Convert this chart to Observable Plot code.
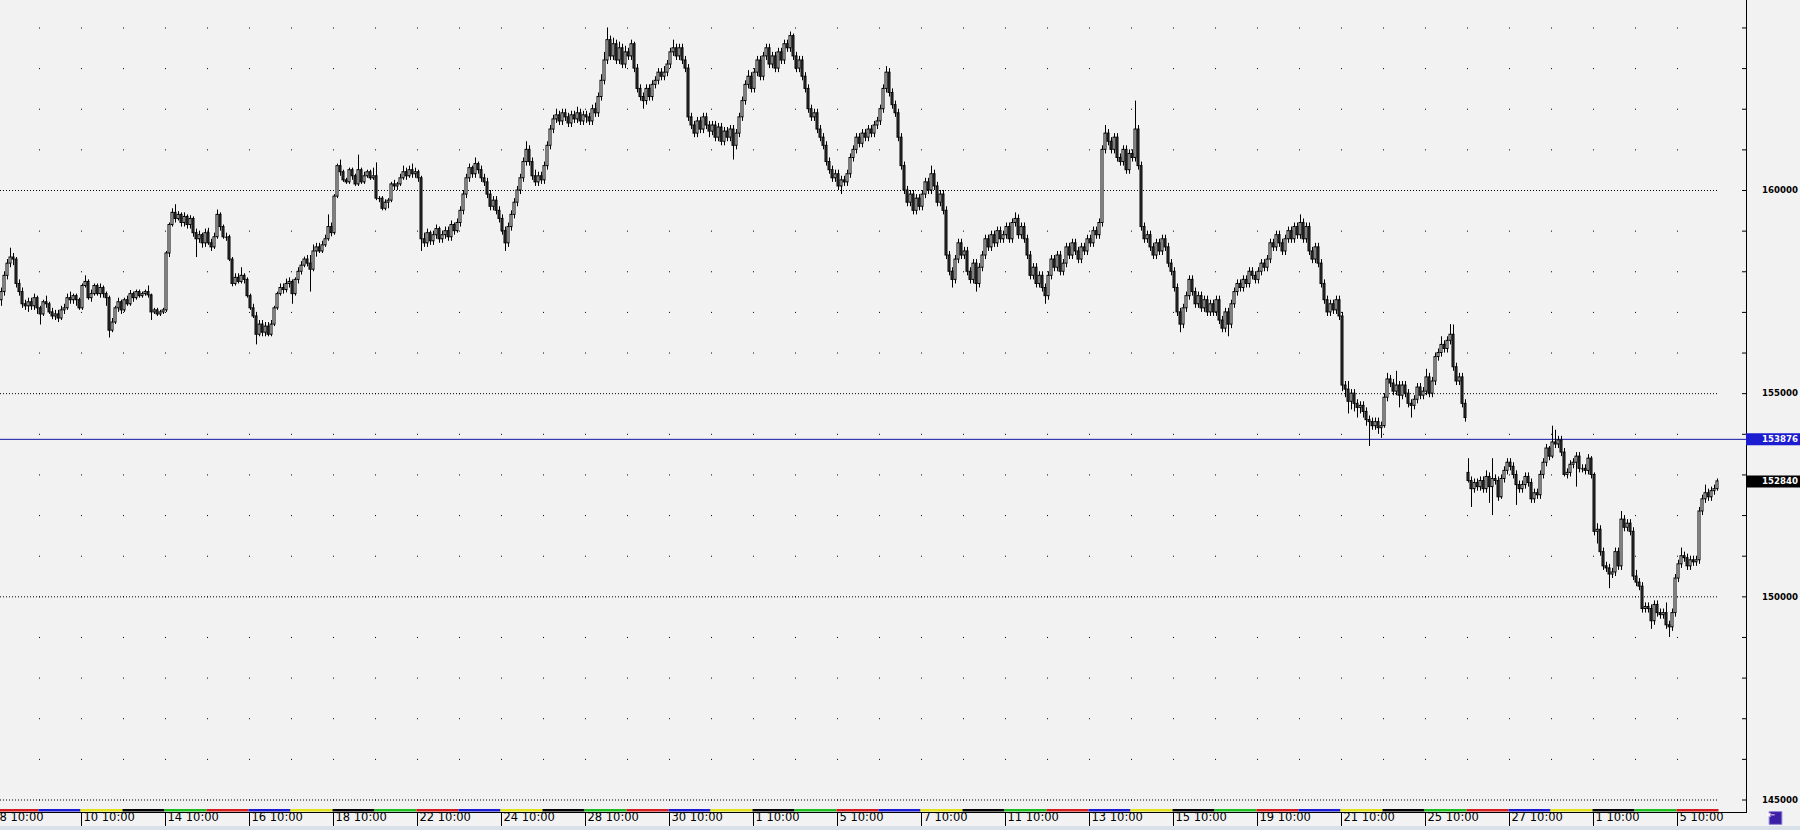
<!DOCTYPE html>
<html><head><meta charset="utf-8">
<script src="https://cdn.jsdelivr.net/npm/d3@7"></script>
<script src="https://cdn.jsdelivr.net/npm/@observablehq/plot@0.6"></script>
<style>html,body{margin:0;padding:0;background:#f2f2f2;overflow:hidden}</style>
</head><body><div id="chart"></div>
<script>
// ---- data (H1 bars, 14 per trading day, 2013-01-08 .. 2013-03-05) ----
const firstDay = "2013-01-08", lastDay = "2013-03-05";
const barsPerDay = 14;
const timeLabels = ["8 10:00","10 10:00","14 10:00","16 10:00","18 10:00","22 10:00","24 10:00","28 10:00","30 10:00","1 10:00","5 10:00","7 10:00","11 10:00","13 10:00","15 10:00","19 10:00","21 10:00","25 10:00","27 10:00","1 10:00","5 10:00"];
const labelDayIndex = [0,2,4,6,8,10,12,14,16,18,20,22,24,26,28,30,32,34,36,38,40];
const weekdayColors = {1:"#1fbd1f", 2:"#d42020", 3:"#1c1cd2", 4:"#e2e21c", 5:"#000000"};
const priceLabels = [145000,150000,155000,160000];
const tickLevels = [145000,146000,147000,148000,149000,150000,151000,152000,153000,154000,155000,156000,157000,158000,159000,160000,161000,162000,163000,164000];
const lineLevel = 153876;
const lastPrice = 152840;

const open = [
157600,157300,157500,157900,158200,158350,158300,157700,157500,157200,157150,157250,157150,157350,
157100,156950,157250,157200,157000,156900,156950,156850,157050,157100,157350,157300,157400,157300,
157100,157650,157750,157350,157450,157650,157450,157600,157450,157350,156550,156750,157100,157250,
157050,157300,157200,157450,157350,157500,157400,157450,157500,157420,157000,157050,156950,157000,
157050,158450,159150,159450,159300,159400,159200,159350,159150,159300,158950,158800,158900,158700,
158950,158700,158600,158850,159400,159100,158850,158850,158300,157700,157850,157750,157900,157800,
157400,157100,156900,156450,156700,156500,156650,156450,156700,157100,157450,157600,157550,157700,
157750,157450,157800,158000,158150,158300,158200,158050,158500,158600,158500,158650,158800,159100,
158950,159850,160600,160450,160250,160200,160500,160350,160150,160500,160200,160350,160450,160300,
160350,159800,159800,159550,159700,159750,160150,160100,160150,160300,160450,160350,160500,160400,
160450,160300,158800,158700,158950,158750,158900,159050,158800,158900,159000,158850,159150,159000,
159200,159500,159900,160300,160550,160400,160650,160500,160300,160200,159900,159600,159750,159500,
159300,159000,158700,159100,159400,159700,160000,160300,160700,161000,160700,160350,160200,160350,
160250,160600,161100,161500,161750,161850,161700,161900,161800,161650,161850,161750,161900,161700,
161850,161800,161700,162000,161900,162300,162700,163200,163700,163300,163600,163200,163500,163100,
163400,163300,163600,163000,162500,162300,162200,162500,162300,162600,162700,162900,162800,162900,
163100,163400,163500,163300,163500,163200,163000,161800,161600,161400,161700,161500,161800,161600,
161450,161600,161300,161550,161200,161450,161300,161500,161100,161400,161800,162200,162600,162800,
162500,162900,163200,162800,163300,163500,163100,163300,163000,163400,163200,163600,163500,163800,
163300,163000,163200,162800,162500,162000,161800,161900,161500,161300,161100,160700,160500,160300,
160400,160100,160250,160200,160400,160800,161000,161300,161150,161400,161300,161500,161400,161600,
161700,162000,162500,162900,162400,162100,161900,161300,160600,160000,159700,159900,159500,159800,
159600,159900,160200,160000,160400,160100,159700,159900,159500,158400,158000,157800,158300,158700,
158400,158500,158000,157800,158200,157700,158100,158400,158800,158600,158900,158700,159000,158800,
158900,159100,158800,159200,159300,158900,159100,158800,158400,157900,158100,157700,157900,157600,
157400,157900,158300,158100,158400,158000,158200,158600,158400,158700,158500,158300,158600,158500,
158800,158700,159000,158900,159200,161000,161400,161200,161000,161300,160800,160700,161000,160500,
160900,160800,161500,160600,159100,158800,158900,158600,158400,158700,158500,158800,158600,158200,
158000,157600,157000,156700,157100,157400,157800,157500,157200,157400,157100,157300,157000,157200,
157000,157300,156800,156600,157000,156700,157200,157500,157700,157600,157800,157700,158000,157900,
157800,158000,158200,158100,158300,158700,158600,158900,158700,158500,158800,159000,158800,159100,
158900,159200,158800,159100,158500,158300,158600,158200,157700,157300,157000,157200,157050,157300,
156900,155200,155100,154800,155000,154750,154650,154700,154550,154350,154300,154200,154300,154150,
154200,154900,155350,155250,155050,155200,154950,155200,155000,154750,154700,154850,155150,154950,
155050,155400,155000,155300,155900,156000,156200,156100,156300,156450,155650,155300,155400,154750,
153050,152850,152650,152800,152700,152850,152650,152950,152700,152900,152850,152450,152900,153100,
153300,153200,153000,152750,152650,152750,152950,152800,152400,152550,152500,153000,153300,153650,
153450,153800,153750,153850,153550,153000,153050,153250,153300,153450,153150,153150,153100,153400,
153000,151600,151650,151100,150750,150700,150550,150600,151100,150750,151900,151700,151800,151600,
150500,150350,150250,149700,149750,149700,149400,149800,149600,149550,149600,149300,149250,149600,
150450,150800,151000,150950,150750,150900,150850,150900,152100,152400,152550,152450,152600,152650
];
const high = [
157750,157600,158000,158300,158580,158450,158350,157800,157600,157300,157350,157350,157450,157400,
157150,157300,157400,157250,157100,157050,157050,157150,157200,157450,157500,157450,157450,157350,
157700,157900,157800,157550,157700,157700,157700,157650,157500,157400,156850,157150,157350,157300,
157350,157400,157540,157500,157550,157550,157500,157550,157650,157450,157100,157100,157050,157100,
158500,159200,159550,159650,159480,159450,159450,159400,159380,159350,159050,159000,158950,159050,
159070,158800,158950,159520,159450,159150,158950,158900,158350,157950,157950,158100,157950,157850,
157450,157200,157000,156800,156800,156750,156750,156800,157150,157500,157700,157700,157820,157850,
157800,157850,158100,158250,158360,158400,158400,158660,158700,158700,158750,158900,159400,159200,
159900,160650,160750,160500,160300,160550,160550,160400,160870,160550,160450,160500,160500,160550,
160680,159850,159850,159770,159800,160200,160250,160200,160400,160600,160550,160600,160650,160550,
160500,160350,158950,159050,159000,159000,159150,159100,159000,159100,159100,159250,159200,159300,
159600,160000,160400,160650,160600,160800,160700,160600,160400,160300,160000,159850,159850,159600,
159400,159100,159200,159500,159800,160100,160400,160800,161200,161100,160800,160500,160450,160450,
160700,161200,161600,161850,162000,161950,162000,162000,161900,161950,161950,162050,162000,161950,
161950,161900,162100,162150,162400,162850,163400,164000,163800,163750,163700,163650,163600,163550,
163500,163700,163650,163100,162600,162400,162600,162600,162700,162800,163000,163000,163050,163200,
163500,163700,163600,163600,163600,163300,163100,161900,161700,161800,161800,161900,161900,161700,
161700,161700,161650,161650,161550,161550,161600,161600,161500,161900,162300,162700,162950,162900,
163000,163300,163300,163400,163600,163600,163400,163400,163500,163500,163700,163700,163900,163850,
163400,163300,163300,162900,162600,162100,162000,162000,161600,161400,161200,160800,160600,160500,
160500,160350,160350,160500,160900,161100,161400,161400,161500,161500,161600,161600,161700,161800,
162100,162600,163050,163000,162500,162200,162000,161400,160700,160100,160000,160000,159900,159900,
160000,160300,160300,160600,160500,160200,160000,160000,159600,158500,158100,158400,158800,158800,
158600,158600,158100,158300,158300,158200,158500,158900,158900,159000,159000,159100,159100,159000,
159200,159200,159300,159450,159400,159200,159200,158900,158500,158200,158200,158000,158000,157700,
158000,158400,158400,158500,158500,158300,158700,158700,158800,158800,158600,158700,158700,158900,
158900,159100,159100,159300,161100,161600,161500,161300,161400,161400,160900,161100,161100,161000,
161000,162200,161600,160700,159200,159000,159000,158700,158800,158800,158900,158900,158700,158300,
158100,157700,157100,157200,157500,157900,157900,157600,157500,157500,157400,157400,157300,157300,
157400,157400,156900,157100,157100,157300,157600,157800,157800,157900,157900,158100,158100,158000,
158100,158300,158300,158400,158800,158800,159000,159000,158800,158900,159100,159100,159200,159200,
159400,159300,159200,159200,158600,158700,158700,158300,157800,157400,157300,157300,157400,157400,
157000,155300,155300,155100,155100,154850,154800,154800,154650,154450,154400,154400,154400,154300,
155000,155500,155450,155350,155550,155300,155300,155300,155100,154850,154950,155250,155250,155150,
155600,155500,155400,156000,156100,156400,156300,156400,156700,156690,155750,155500,155500,154850,
153400,152950,152900,152900,152950,152950,153100,153050,153400,153000,152950,153000,153200,153400,
153400,153300,153100,152850,152850,153050,153050,152900,152650,152650,153100,153400,153750,153700,
154200,154100,153950,153950,153650,153150,153350,153400,153550,153550,153250,153250,153500,153450,
153050,151800,151750,151200,150850,150800,150700,151200,151200,152100,152000,151900,151900,151700,
150650,150450,150350,149850,149850,149800,149900,149900,149700,149700,149850,149400,149700,150550,
150900,151200,151100,151050,151000,151000,151000,152200,152500,152750,152650,152700,152750,152900
];
const low = [
157200,157150,157400,157800,158100,158150,157600,157400,157100,157050,157000,157050,157050,156950,
156690,156900,157100,156950,156820,156800,156750,156800,156950,157050,157200,157200,157150,157050,
157050,157600,157300,157250,157400,157400,157350,157350,157150,156370,156500,156700,157000,156950,
157000,157150,157150,157250,157300,157350,157350,157400,157350,156800,156950,156900,156900,156950,
157000,158350,159100,159200,159250,159100,159100,159050,159050,158850,158350,158700,158580,158600,
158650,158500,158550,158800,159000,158800,158750,158250,157630,157650,157700,157700,157700,157350,
157050,156850,156200,156400,156400,156400,156400,156400,156650,157050,157400,157450,157480,157600,
157200,157400,157700,157920,158100,158120,157500,158000,158360,158450,158450,158600,158750,158860,
158900,159800,160350,160200,160150,160150,160250,160100,160100,160150,160150,160300,160250,160250,
159750,159700,159500,159500,159550,159700,160000,160000,160100,160250,160250,160300,160300,160300,
160200,158500,158600,158600,158650,158650,158800,158700,158700,158800,158750,158750,158900,158950,
159100,159400,159800,160200,160300,160300,160400,160200,160100,159800,159500,159500,159400,159200,
158900,158500,158600,159000,159300,159600,159900,160200,160600,160600,160250,160100,160100,160150,
160150,160500,161000,161400,161650,161600,161600,161700,161550,161550,161650,161650,161600,161600,
161650,161600,161600,161800,161800,162200,162600,163100,163200,163200,163100,163100,163000,163000,
163200,163200,162900,162400,162200,162000,162100,162200,162200,162500,162600,162700,162700,162800,
163000,163300,163200,163200,163100,162900,161700,161500,161300,161300,161400,161400,161500,161300,
161350,161200,161200,161100,161100,161200,161200,160750,161000,161300,161700,162100,162500,162400,
162400,162800,162700,162700,163200,163000,163000,162900,162900,163100,163100,163400,163400,163200,
162900,162900,162700,162400,161900,161700,161700,161400,161200,161000,160600,160400,160200,160200,
160000,159900,160100,160100,160300,160700,160900,161050,161050,161200,161200,161300,161300,161500,
161600,161900,162400,162300,162000,161800,161200,160500,159900,159600,159600,159400,159400,159500,
159500,159800,159900,159900,160000,159600,159600,159400,158300,157900,157600,157700,158200,158300,
158300,157900,157700,157700,157500,157600,158000,158300,158500,158500,158600,158600,158700,158700,
158800,158700,158700,159100,158800,158800,158700,158300,157800,157800,157600,157600,157500,157200,
157300,157800,158000,158000,157900,157900,158100,158300,158300,158400,158200,158200,158400,158400,
158600,158600,158800,158800,159100,160900,161100,160900,160900,160700,160600,160600,160400,160400,
160700,160700,160500,159000,158700,158700,158500,158300,158300,158400,158400,158500,158100,157900,
157500,156900,156500,156600,157000,157300,157400,157100,157100,157000,157000,156900,156900,156900,
156900,156700,156500,156500,156400,156600,157100,157400,157500,157500,157600,157600,157800,157700,
157700,157900,158000,158000,158200,158500,158500,158600,158400,158400,158700,158700,158700,158800,
158800,158700,158700,158400,158200,158200,158100,157600,157200,156900,156900,156950,156950,156800,
155050,154900,154500,154600,154550,154400,154500,154400,154200,153700,154100,154100,154000,153900,
154150,154800,155150,154950,154950,154650,154850,154900,154650,154400,154600,154750,154850,154850,
154950,154900,154900,155200,155800,155900,156000,156000,156200,155550,155200,155200,154650,154300,
152800,152200,152550,152600,152600,152550,152550,152300,152000,152750,152350,152400,152800,153000,
153100,152900,152250,152550,152550,152650,152700,152300,152300,152400,152400,152900,153200,153350,
153400,153650,153650,153450,152950,152900,152950,153150,152700,153050,153050,153000,153000,152900,
151500,151300,151000,150650,150600,150200,150450,150500,150650,150650,151600,151600,151500,150400,
150250,150150,149600,149600,149600,149200,149300,149500,149450,149450,149200,149000,149150,149500,
150350,150700,150850,150650,150650,150750,150750,150800,152000,152300,152350,152350,152500,152600
];
const close = [
157300,157500,157900,158200,158350,158300,157700,157500,157200,157150,157250,157150,157350,157100,
156950,157250,157200,157000,156900,156950,156850,157050,157100,157350,157300,157400,157300,157100,
157650,157750,157350,157450,157650,157450,157600,157450,157350,156550,156750,157100,157250,157050,
157300,157200,157450,157350,157500,157400,157450,157500,157420,157000,157050,156950,157000,157050,
158450,159150,159450,159300,159400,159200,159350,159150,159300,158950,158800,158900,158700,158950,
158700,158600,158850,159400,159100,158850,158850,158300,157700,157850,157750,157900,157800,157400,
157100,156900,156450,156700,156500,156650,156450,156700,157100,157450,157600,157550,157700,157750,
157450,157800,158000,158150,158300,158200,158050,158500,158600,158500,158650,158800,159100,158950,
159850,160600,160450,160250,160200,160500,160350,160150,160500,160200,160350,160450,160300,160350,
159800,159800,159550,159700,159750,160150,160100,160150,160300,160450,160350,160500,160400,160450,
160300,158800,158700,158950,158750,158900,159050,158800,158900,159000,158850,159150,159000,159200,
159500,159900,160300,160550,160400,160650,160500,160300,160200,159900,159600,159750,159500,159300,
159000,158700,159100,159400,159700,160000,160300,160700,161000,160700,160350,160200,160350,160250,
160600,161100,161500,161750,161850,161700,161900,161800,161650,161850,161750,161900,161700,161850,
161800,161700,162000,161900,162300,162700,163200,163700,163300,163600,163200,163500,163100,163400,
163300,163600,163000,162500,162300,162200,162500,162300,162600,162700,162900,162800,162900,163100,
163400,163500,163300,163500,163200,163000,161800,161600,161400,161700,161500,161800,161600,161450,
161600,161300,161550,161200,161450,161300,161500,161100,161400,161800,162200,162600,162800,162500,
162900,163200,162800,163300,163500,163100,163300,163000,163400,163200,163600,163500,163800,163300,
163000,163200,162800,162500,162000,161800,161900,161500,161300,161100,160700,160500,160300,160400,
160100,160250,160200,160400,160800,161000,161300,161150,161400,161300,161500,161400,161600,161700,
162000,162500,162900,162400,162100,161900,161300,160600,160000,159700,159900,159500,159800,159600,
159900,160200,160000,160400,160100,159700,159900,159500,158400,158000,157800,158300,158700,158400,
158500,158000,157800,158200,157700,158100,158400,158800,158600,158900,158700,159000,158800,158900,
159100,158800,159200,159300,158900,159100,158800,158400,157900,158100,157700,157900,157600,157400,
157900,158300,158100,158400,158000,158200,158600,158400,158700,158500,158300,158600,158500,158800,
158700,159000,158900,159200,161000,161400,161200,161000,161300,160800,160700,161000,160500,160900,
160800,161500,160600,159100,158800,158900,158600,158400,158700,158500,158800,158600,158200,158000,
157600,157000,156700,157100,157400,157800,157500,157200,157400,157100,157300,157000,157200,157000,
157300,156800,156600,157000,156700,157200,157500,157700,157600,157800,157700,158000,157900,157800,
158000,158200,158100,158300,158700,158600,158900,158700,158500,158800,159000,158800,159100,158900,
159200,158800,159100,158500,158300,158600,158200,157700,157300,157000,157200,157050,157300,156900,
155200,155100,154800,155000,154750,154650,154700,154550,154350,154300,154200,154300,154150,154200,
154900,155350,155250,155050,155200,154950,155200,155000,154750,154700,154850,155150,154950,155050,
155400,155000,155300,155900,156000,156200,156100,156300,156450,155650,155300,155400,154750,154400,
152850,152650,152800,152700,152850,152650,152950,152700,152900,152850,152450,152900,153100,153300,
153200,153000,152750,152650,152750,152950,152800,152400,152550,152500,153000,153300,153650,153450,
153800,153750,153850,153550,153000,153050,153250,153300,153450,153150,153150,153100,153400,153000,
151600,151650,151100,150750,150700,150550,150600,151100,150750,151900,151700,151800,151600,150500,
150350,150250,149700,149750,149700,149400,149800,149600,149550,149600,149300,149250,149600,150450,
150800,151000,150950,150750,150900,150850,150900,152100,152400,152550,152450,152600,152650,152840
];

// ---- derived tables ----
const tradingDays = d3.utcDays(new Date(firstDay), d3.utcDay.offset(new Date(lastDay), 1))
  .filter(d => d.getUTCDay() > 0 && d.getUTCDay() < 6);
const nDays = tradingDays.length;
const bars = close.map((c, k) => ({k, o: open[k], h: high[k], l: low[k], c}));
const bodies = bars.filter(b => b.o !== b.c);
const dojis = bars.filter(b => b.o === b.c);
const daySegs = tradingDays.map((d, i) => ({u1: i * barsPerDay, u2: (i + 1) * barsPerDay, color: weekdayColors[d.getUTCDay()]}));
const labelRows = labelDayIndex.map((d, i) => ({u: d * barsPerDay, text: timeLabels[i]}));
const gridDots = [];
for (let i = 1; i < nDays; i++) for (const lv of tickLevels) gridDots.push({u: i * barsPerDay, lv});

const W = 1800, H = 830;
const priceFont = {fontSize: 8.6, fontWeight: "bold", fontFamily: "DejaVu Sans"};
const chart = Plot.plot({
  width: W, height: H,
  marginLeft: 0, marginRight: 54, marginTop: 0, marginBottom: 18,
  style: {background: "linear-gradient(#f2f2f2 826px, #d8e0ea 826px)", fontFamily: "DejaVu Sans", overflow: "visible"},
  x: {type: "linear", domain: [0, 583], range: [-3.5, 1745.5], axis: null},
  y: {type: "linear", domain: [145000, 160000], range: [799.5, 190], axis: null},
  marks: [
    // dot grid
    Plot.dot(gridDots, {x: "u", y: "lv", r: 0.57, symbol: "square", fill: "#000", stroke: null, dx: 0.5}),
    // dotted price grid lines
    Plot.ruleY(priceLabels, {stroke: "#000", strokeWidth: 1, strokeDasharray: "1,2", insetRight: 29}),
    // horizontal blue line
    Plot.ruleY([lineLevel], {stroke: "#1414a8", strokeWidth: 1}),
    // wicks
    Plot.ruleX(bars, {x: d => d.k + 0.5, y1: "l", y2: "h", stroke: "#000", strokeWidth: 1}),
    // bodies
    Plot.rect(bodies, {x1: d => d.k + 1/6, x2: d => d.k + 5/6, y1: "o", y2: "c",
      fill: d => d.c > d.o ? "#ffffff" : "#3c3c3c", stroke: "#000", strokeWidth: 1}),
    Plot.ruleY(dojis, {y: "c", x1: d => d.k, x2: d => d.k + 1, stroke: "#000"}),
    // day colour strip along the time axis
    Plot.rect(daySegs, {x1: "u1", x2: "u2", fill: "color", insetTop: 809, insetBottom: 0.5}),
    // frame lines (right price axis and bottom time axis)
    Plot.frame({anchor: "right", stroke: "#000"}),
    Plot.frame({anchor: "bottom", stroke: "#000"}),
    // price axis ticks (inside) and labels
    Plot.tickY(tickLevels, {y: d => d, insetLeft: 1742, stroke: "#000"}),
    Plot.text(priceLabels, {y: d => d, text: d => String(d), frameAnchor: "right", dx: 15.5, textAnchor: "start", fill: "#000", ...priceFont}),
    // price markers
    Plot.tickY([lineLevel], {y: d => d, insetLeft: 1746, insetRight: -54, stroke: "#1c1cd0", strokeWidth: 12}),
    Plot.tickY([lastPrice], {y: d => d, insetLeft: 1746, insetRight: -54, stroke: "#000", strokeWidth: 12}),
    Plot.text([lineLevel, lastPrice], {y: d => d, text: d => String(d), frameAnchor: "right", dx: 15.5, textAnchor: "start", fill: "#fff", ...priceFont}),
    // time axis ticks and labels
    Plot.axisX(labelRows.map(d => d.u), {tickSize: 14, tickFormat: () => "", stroke: "#000", dx: 0.5}),
    Plot.text(labelRows, {x: "u", text: "text", frameAnchor: "bottom", dy: 8.5, dx: 2.5, textAnchor: "start",
      fontSize: 11.5, fontFamily: "DejaVu Sans", fill: "#000"}),
    // small "shift" button at the bottom right corner
    Plot.dot([0], {frameAnchor: "bottom-right", dx: 29, dy: 5.5, symbol: "square", r: 7.2, fill: "#3b1fa6", stroke: "#8f86d8", strokeWidth: 1}),
    Plot.text(["\u21E4"], {frameAnchor: "bottom-right", dx: 29, dy: 5.5, fill: "#fff", fontSize: 10, fontFamily: "DejaVu Sans"})
  ]
});
document.getElementById("chart").appendChild(chart);
</script>
</body></html>
